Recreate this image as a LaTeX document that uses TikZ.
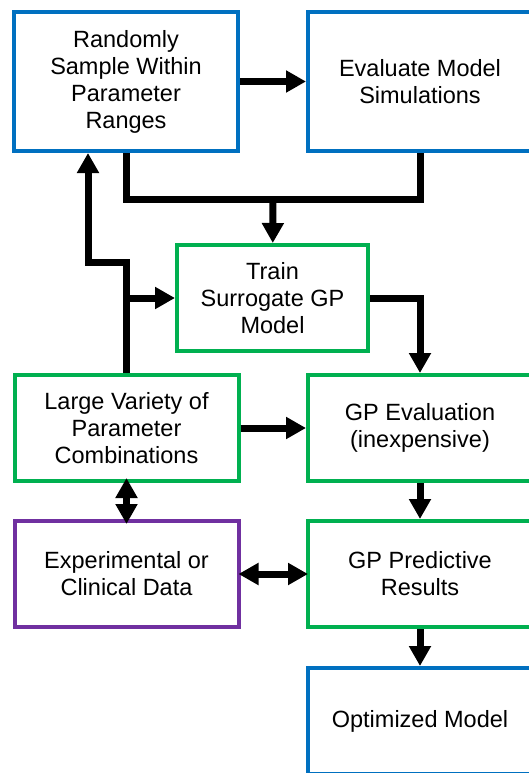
\documentclass[tikz,border=0pt]{standalone}
\usepackage{fontspec}
\setmainfont{Liberation Sans}
\usetikzlibrary{arrows.meta}
\definecolor{azul}{RGB}{0,112,192}
\definecolor{verde}{RGB}{0,176,80}
\definecolor{morado}{RGB}{112,48,160}

\begin{document}
\begin{tikzpicture}[x=1pt, y=-1pt, >={Triangle[length=20pt,width=21pt]},
  caja/.style={draw, line width=4pt, align=center, inner sep=0pt,
    font=\fontsize{23.5}{27}\selectfont, minimum width=224pt, minimum height=106pt},
  flecha/.style={line width=7pt}]
  \useasboundingbox (0,0) rectangle (529,773);
  % boxes
  \node[caja, azul, text=black, minimum height=139pt] (rand) at (126,81.5) {Randomly\\Sample Within\\Parameter\\Ranges};
  \node[caja, azul, text=black, minimum height=139pt] (eval) at (420,81.5) {Evaluate Model\\Simulations};
  \node[caja, verde, text=black, minimum width=191pt] (train) at (272.5,298) {Train\\Surrogate GP\\Model};
  \node[caja, verde, text=black] (vary) at (126.5,428) {Large Variety of\\Parameter\\Combinations};
  \node[caja, verde, text=black] (gpeval) at (420,428) {GP Evaluation\\(inexpensive)};
  \node[caja, morado, text=black] (expt) at (126.5,574) {Experimental or\\Clinical Data};
  \node[caja, verde, text=black] (pred) at (420,574) {GP Predictive\\Results};
  \node[caja, azul, text=black] (opt) at (420,721) {Optimized Model};
  % connectors
  \coordinate (join) at (273,199);
  \coordinate (kink) at (88,262);
  \draw[flecha, ->] (rand) -- (eval);
  \draw[flecha] (rand.south) |- (join) -| (eval.south);
  \draw[flecha, ->] (join) -- (train);
  \draw[flecha, ->] (vary.north) |- (kink) -- (kink |- rand.south);
  \draw[flecha, ->] (vary.north |- train.west) -- (train.west);
  \draw[flecha, ->] (train.east) -| (gpeval.north);
  \draw[flecha, ->] (vary) -- (gpeval);
  \draw[flecha, <->, shorten <=-5pt, shorten >=-5pt] (vary) -- (expt);
  \draw[flecha, ->] (gpeval) -- (pred);
  \draw[flecha, <->, shorten <=-2pt, shorten >=-2pt] (expt) -- (pred);
  \draw[flecha, ->] (pred) -- (opt);
\end{tikzpicture}
\end{document}
